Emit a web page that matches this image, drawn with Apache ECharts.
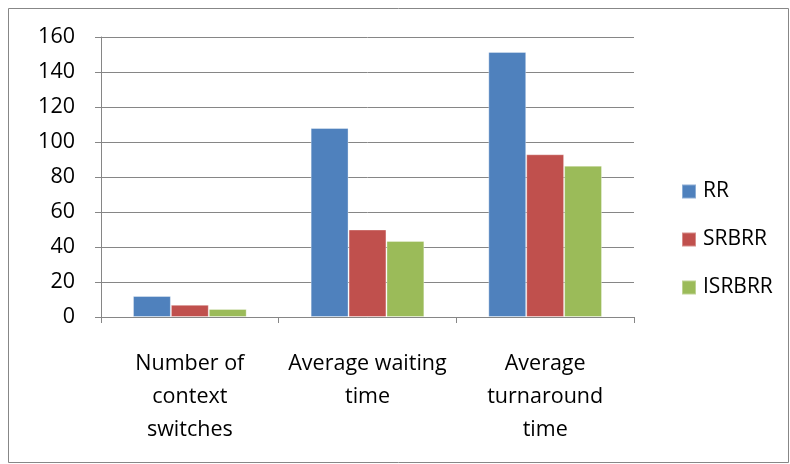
<!DOCTYPE html>
<html><head><meta charset="utf-8">
<script src="https://cdn.jsdelivr.net/npm/echarts@6/dist/echarts.min.js"></script>
<style>html,body{margin:0;padding:0;background:#fff}#c{width:790px;height:464px}</style>
</head><body><div id="c"></div>
<script>
const categories = ["Number of\ncontext\nswitches", "Average waiting\ntime", "Average\nturnaround\ntime"];
const seriesNames = ["RR", "SRBRR", "ISRBRR"];
const rr = [12, 108, 151.5];
const srbrr = [7, 50, 93];
const isrbrr = [4.6, 43.5, 86.5];
const colors = ["#4F81BD", "#C0504D", "#9BBB59"];
const font = "'Open Sans', sans-serif";
const chart = echarts.init(document.getElementById('c'));
const values = [rr, srbrr, isrbrr];
chart.setOption({
  animation: false,
  graphic: [{type:'rect', shape:{x:8.5,y:8.5,width:780,height:454}, style:{fill:'none', stroke:'#878787', lineWidth:1}}],
  grid: {left: 101, right: 156, top: 37, bottom: 147},
  legend: {
    orient: 'vertical', left: 676, top: 176, itemGap: 27, itemWidth: 14, itemHeight: 14,
    icon: 'rect', textStyle: {fontFamily: font, fontSize: 21, color: '#000', padding:[0,0,0,2]},
    data: seriesNames
  },
  xAxis: {
    type: 'category', data: categories,
    axisLine: {lineStyle: {color: '#868686', width: 1}},
    axisTick: {show: true, length: 6, lineStyle: {color: '#868686'}},
    axisLabel: {interval: 0, hideOverlap: false, fontFamily: font, fontSize: 21.5, color: '#000', lineHeight: 33, margin: 30}
  },
  yAxis: {
    type: 'value', min: 0, max: 160, interval: 20,
    axisLine: {show: true, lineStyle: {color: '#868686'}},
    axisTick: {show: true, length: 6, lineStyle: {color: '#868686'}},
    splitLine: {lineStyle: {color: '#868686', width: 1}},
    axisLabel: {fontFamily: font, fontSize: 21.5, color: '#000', margin: 26}
  },
  series: seriesNames.map((n, i) => ({
    name: n, type: 'bar', data: values[i], barGap: '0%', barCategoryGap: '36%',
    itemStyle: {color: colors[i], borderColor: 'rgba(255,255,255,0.35)', borderWidth: 1}
  }))
});
</script></body></html>
